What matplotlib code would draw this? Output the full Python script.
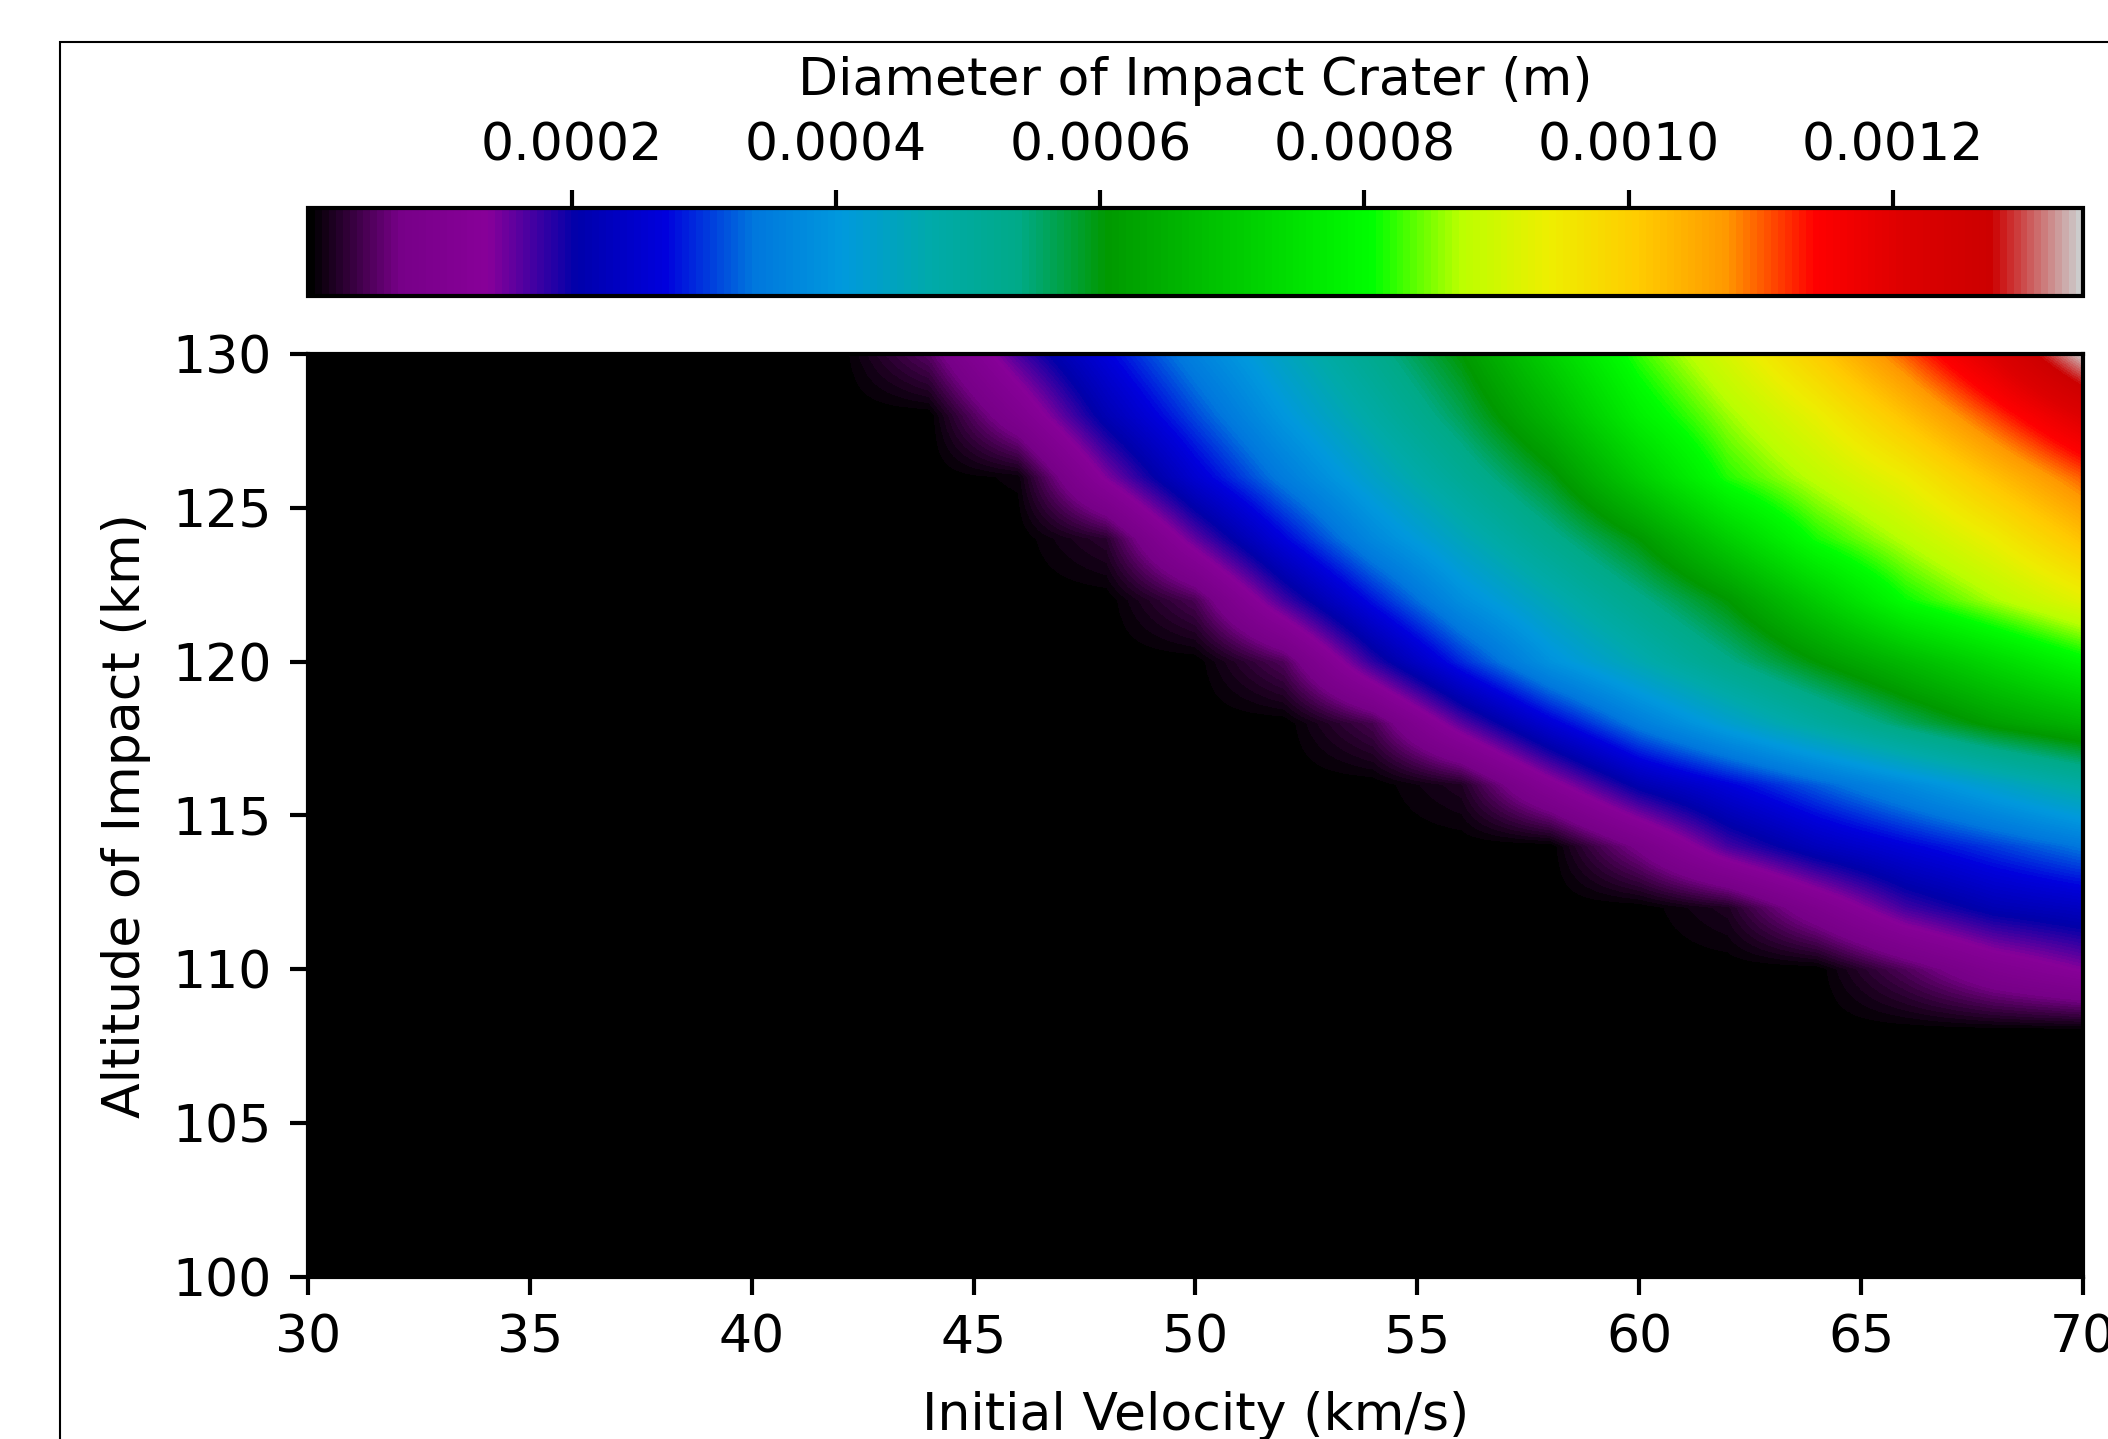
import matplotlib
matplotlib.use("Agg")
import numpy as np
import matplotlib.pyplot as plt
from matplotlib.patches import Rectangle
from matplotlib.ticker import FormatStrFormatter

# grid
velocity_kms = [30, 32, 34, 36, 38, 40, 42, 44, 46, 48, 50,
                52, 54, 56, 58, 60, 62, 64, 66, 68, 70]
altitude_km = [100, 102, 104, 106, 108, 110, 112, 114,
               116, 118, 120, 122, 124, 126, 128, 130]

# crater diameter in mm, one row per altitude (100 -> 130 km)
diameter_mm = [
    [0, 0, 0, 0, 0, 0, 0, 0, 0, 0, 0, 0, 0, 0, 0, 0, 0, 0, 0, 0, 0],
    [0, 0, 0, 0, 0, 0, 0, 0, 0, 0, 0, 0, 0, 0, 0, 0, 0, 0, 0, 0, 0],
    [0, 0, 0, 0, 0, 0, 0, 0, 0, 0, 0, 0, 0, 0, 0, 0, 0, 0, 0, 0, 0],
    [0, 0, 0, 0, 0, 0, 0, 0, 0, 0, 0, 0, 0, 0, 0, 0, 0, 0, 0, 0, 0],
    [0, 0, 0, 0, 0, 0, 0, 0, 0, 0, 0, 0, 0, 0, 0, 0, 0, 0, 0, 0, 0],
    [0, 0, 0, 0, 0, 0, 0, 0, 0, 0, 0, 0, 0, 0, 0, 0, 0, 0, 0.047, 0.101, 0.138],
    [0, 0, 0, 0, 0, 0, 0, 0, 0, 0, 0, 0, 0, 0, 0, 0, 0.019, 0.095, 0.171, 0.214, 0.233],
    [0, 0, 0, 0, 0, 0, 0, 0, 0, 0, 0, 0, 0, 0, 0, 0.075, 0.169, 0.226, 0.265, 0.302, 0.340],
    [0, 0, 0, 0, 0, 0, 0, 0, 0, 0, 0, 0, 0, 0.020, 0.121, 0.212, 0.266, 0.321, 0.375, 0.430, 0.484],
    [0, 0, 0, 0, 0, 0, 0, 0, 0, 0, 0, 0, 0.042, 0.160, 0.259, 0.349, 0.423, 0.491, 0.558, 0.617, 0.659],
    [0, 0, 0, 0, 0, 0, 0, 0, 0, 0, 0, 0.047, 0.181, 0.292, 0.391, 0.462, 0.534, 0.605, 0.668, 0.730, 0.793],
    [0, 0, 0, 0, 0, 0, 0, 0, 0, 0, 0.044, 0.171, 0.281, 0.383, 0.457, 0.531, 0.605, 0.706, 0.806, 0.867, 0.927],
    [0, 0, 0, 0, 0, 0, 0, 0, 0, 0.026, 0.156, 0.269, 0.371, 0.450, 0.527, 0.605, 0.711, 0.813, 0.876, 0.941, 1.021],
    [0, 0, 0, 0, 0, 0, 0, 0, 0.007, 0.141, 0.254, 0.348, 0.433, 0.512, 0.593, 0.708, 0.818, 0.880, 0.941, 1.023, 1.102],
    [0, 0, 0, 0, 0, 0, 0, 0, 0.098, 0.216, 0.310, 0.401, 0.482, 0.564, 0.663, 0.778, 0.861, 0.934, 1.021, 1.114, 1.210],
    [0, 0, 0, 0, 0, 0, 0, 0.052, 0.167, 0.266, 0.358, 0.442, 0.523, 0.605, 0.716, 0.824, 0.910, 1.003, 1.102, 1.210, 1.344],
]

cbar_ticks = [0.0002, 0.0004, 0.0006, 0.0008, 0.0010, 0.0012]

diam = np.array(diameter_mm) / 1000.0  # metres
v = np.array(velocity_kms)
h = np.array(altitude_km)
dv = v[1] - v[0]
dh = h[1] - h[0]

fig = plt.figure(figsize=(2108 / 375, 1439 / 375))
ax = fig.add_axes([0.1461, 0.1126, 0.8420, 0.6414])
cax = fig.add_axes([0.1461, 0.7943, 0.8420, 0.0612])

im = ax.imshow(diam, cmap="nipy_spectral", origin="lower", aspect="auto",
               extent=[v[0] - dv / 2, v[-1] + dv / 2, h[0] - dh / 2, h[-1] + dh / 2],
               interpolation="bilinear", interpolation_stage="data",
               vmin=0, vmax=diam.max())
ax.set_xlim(30, 70)
ax.set_ylim(100, 130)
ax.set_xlabel("Initial Velocity (km/s)", labelpad=5.3)
ax.set_ylabel("Altitude of Impact (km)")

cb = fig.colorbar(im, cax=cax, orientation="horizontal")
cb.set_ticks(cbar_ticks)
cax.xaxis.set_major_formatter(FormatStrFormatter("%.4f"))
cax.xaxis.set_ticks_position("top")
cax.xaxis.set_label_position("top")
cb.set_label("Diameter of Impact Crater (m)", labelpad=5)

# border of the embedded picture (runs off the right and bottom edges)
top = 1 - 42 / 1439
fig.add_artist(Rectangle((60 / 2108, -0.2), 1.2, top + 0.2,
                         transform=fig.transFigure, fill=False,
                         ec="black", lw=0.4, clip_on=False))

fig.savefig("out.png", dpi=375)
